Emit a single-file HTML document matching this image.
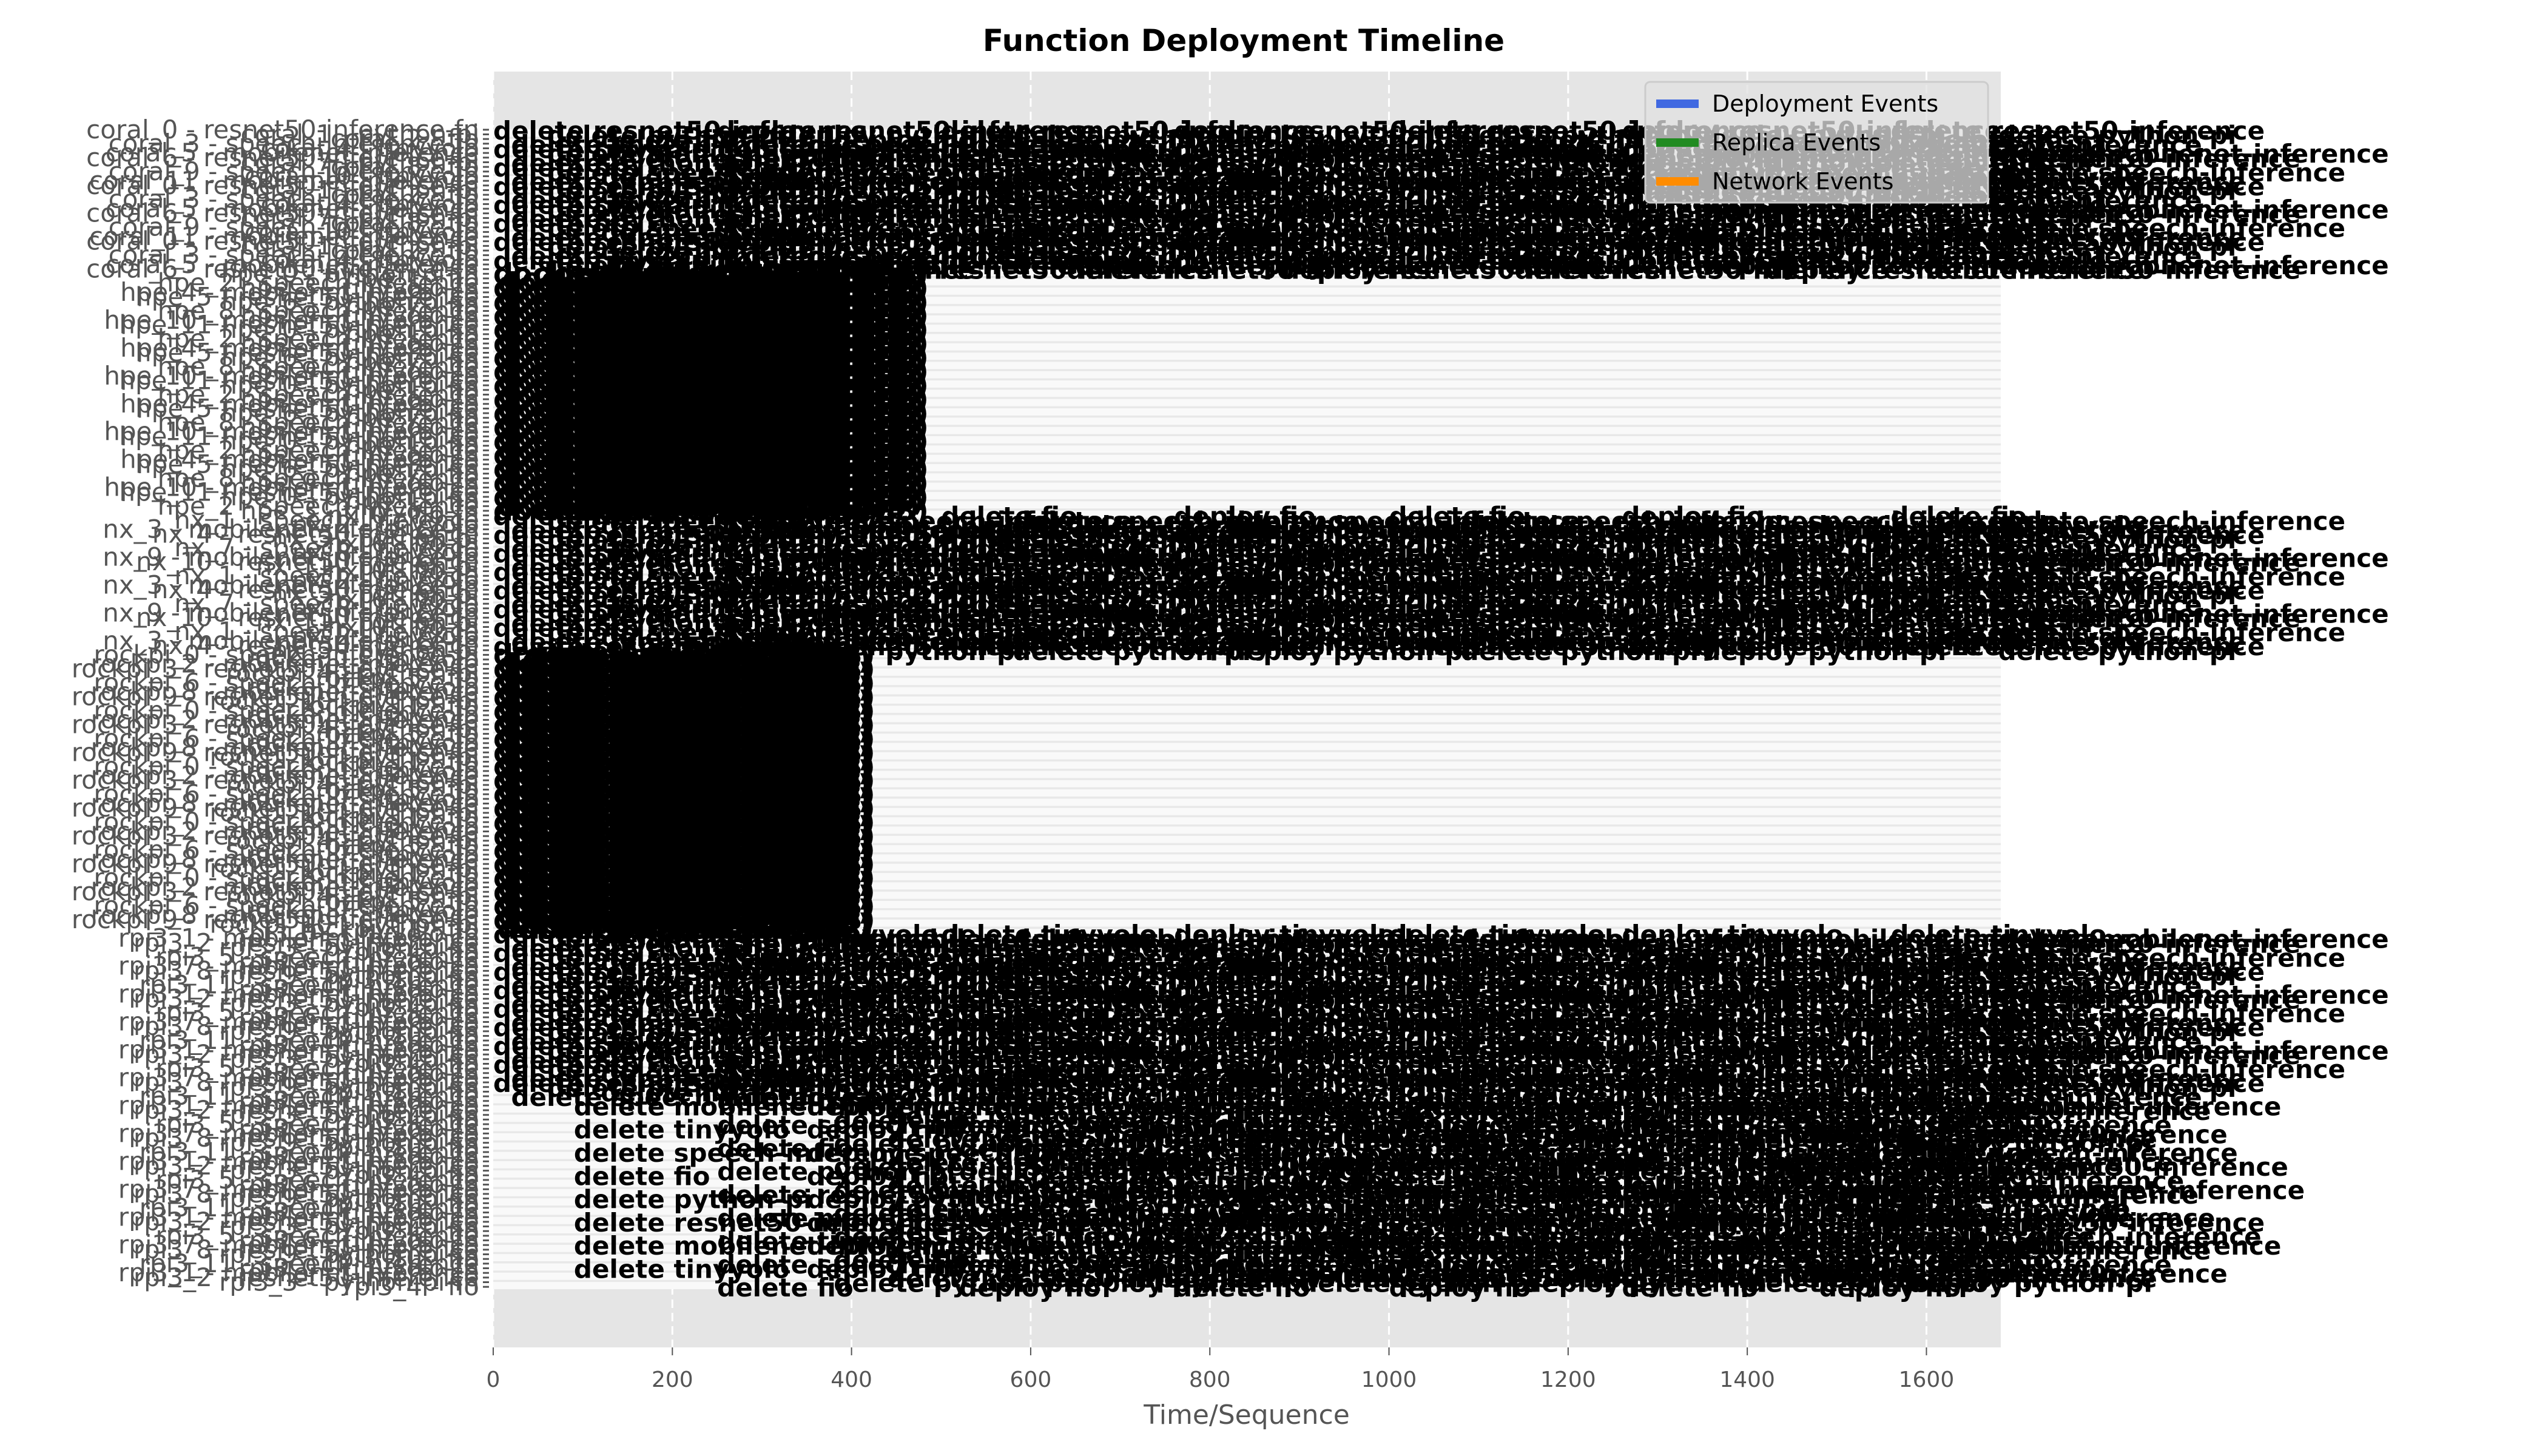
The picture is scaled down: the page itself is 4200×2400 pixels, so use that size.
<!DOCTYPE html>
<html><head><meta charset="utf-8"><style>
html,body{margin:0;padding:0;background:#fff;width:4200px;height:2400px;overflow:hidden}
svg{display:block}
text{font-family:"DejaVu Sans","Liberation Sans",sans-serif}
</style></head><body>
<svg id="chart" width="4200" height="2400" viewBox="0 0 4200 2400" xmlns="http://www.w3.org/2000/svg">
<text x="2050" y="84" text-anchor="middle" font-size="50" font-weight="bold" fill="#000">Function Deployment Timeline</text>
<rect x="813" y="118" width="2485" height="2103" fill="#e5e5e5"/>
<g id="grid"></g>
<rect x="813" y="210" width="2485" height="1915" fill="#f9f9f9"/>
<g id="stripes"></g>
<g id="ylabels"></g>
<g id="events"></g>
<g id="xaxis"></g>
<text x="2055" y="2347" text-anchor="middle" font-size="44" fill="#555">Time/Sequence</text>
<g>
<rect x="2712" y="135" width="565" height="199" rx="8" fill="#e0e0e0" fill-opacity="0.75" stroke="#cccccc" stroke-width="3"/>
<rect x="2730" y="164" width="70" height="14" fill="#4169e1"/>
<text x="2822" y="184" font-size="38" fill="#000">Deployment Events</text>
<rect x="2730" y="228" width="70" height="14" fill="#228b22"/>
<text x="2822" y="248" font-size="38" fill="#000">Replica Events</text>
<rect x="2730" y="292" width="70" height="14" fill="#ff8c00"/>
<text x="2822" y="312" font-size="38" fill="#000">Network Events</text>
</g>
</svg>
<script>
const xTicks = [0,200,400,600,800,1000,1200,1400,1600];
const groupDevices = ['coral','hpe','nx','rockpi','rpi3'];
const groupRows = [31,52,30,60,77];
const groupKinds = ['wide','block','wide','block','wide'];
const groupLabels = ['deploy nuclio-fio-inference','docker-pull (1.2GB)','deploy speech-inference','docker-pull (123MB)','deploy resnet50-inference'];
const wideStarts = [[0,250,500,760,1000,1260,1560],[60,320,580,820,1080,1350,1680],[120,380,640,880,1140,1420,1600],[20,280,540,790,1040,1300,1520]];
const lowerStarts = [[380,640,900,1150,1400,1580],[250,520,760,1000,1260,1480],[90,350,600,840,1080,1330,1560],[560,820,1060,1300,1500],[440,700,950,1200,1440]];
const hpeBlockStarts = [[0,45,95,145],[10,60,110,140],[5,50,100,135]];
const rockBlockStarts = [[0,35,70],[10,40,65],[5,30,68]];
const funcNames = ['resnet50-inference','python-pi','fio','speech-inference','tinyyolo','mobilenet-inference'];

const NS='http://www.w3.org/2000/svg';
const X0=813, X1=3298, T0=0, T1=1683;
function xs(t){return X0+(t-T0)*(X1-X0)/(T1-T0);}
const totalRows = groupRows.reduce((a,b)=>a+b,0);
const Y0=210, Y1=2125, rh=(Y1-Y0)/totalRows;
function ys(r){return Y0+(r+0.5)*rh;}
function mk(tag,attrs,parent){const e=document.createElementNS(NS,tag);for(const k in attrs)e.setAttribute(k,attrs[k]);parent.appendChild(e);return e;}

const grid=document.getElementById('grid');
xTicks.forEach(t=>{
  const l=mk('line',{x1:xs(t),x2:xs(t),y1:118,y2:2221,stroke:'#fff','stroke-width':3,'stroke-dasharray':'14,8'},grid);
  
  
});
const xa=document.getElementById('xaxis');
xTicks.forEach(t=>{
  const tk=mk('line',{x1:xs(t),x2:xs(t),y1:2221,y2:2234,stroke:'#555','stroke-width':2},xa);
  
  
  const tx=mk('text',{x:xs(t),y:2286,'text-anchor':'middle','font-size':36,fill:'#555'},xa);
  
  
  tx.textContent=t;
});

const stripes=document.getElementById('stripes');
const ylab=document.getElementById('ylabels');
const ev=document.getElementById('events');
let row=0;
groupRows.forEach((n,g)=>{
  for(let i=0;i<n;i++,row++){
    const y=ys(row);
    if(row%2===0){
      const s=mk('rect',{x:X0,y:y-rh/2,width:X1-X0,height:rh*0.45,fill:'#e8e8e8'},stripes);
      
      
    }
    const tk=mk('line',{x1:796,x2:806,y1:y,y2:y,stroke:'#555','stroke-width':3},ylab);
    
    
    const lab=mk('text',{x:790,y:y+14,'text-anchor':'end','font-size':42,fill:'#555'},ylab);
    
    
    const fn=funcNames[(i+g)%funcNames.length];
    lab.textContent=groupDevices[g]+'_'+(i%12)+' - '+fn+(i%3===0?'-fn':'');
    let starts;
    if(g===1){starts=hpeBlockStarts[i%hpeBlockStarts.length];}
    else if(g===3){starts=rockBlockStarts[i%rockBlockStarts.length];}
    else if(g===4 && i>35){starts=lowerStarts[i%lowerStarts.length];}
    else {starts=wideStarts[i%wideStarts.length];}
    starts.forEach((t,j)=>{
      const txt=mk('text',{x:xs(t),y:y+16,'font-size':groupKinds[g]==='block'?46:42,'font-weight':'bold',fill:'#000'},ev);
      
      
      if(groupKinds[g]==='block') txt.textContent=groupLabels[g];
      else txt.textContent=(j%2?'deploy ':'delete ')+fn;
    });
  }
});
</script>
</body></html>
